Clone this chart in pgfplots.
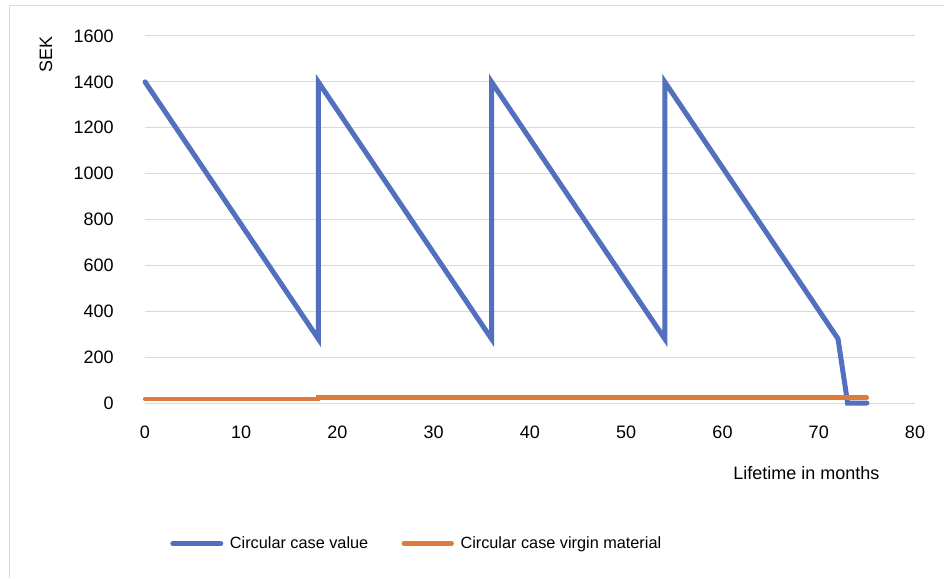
\documentclass[border=0pt]{standalone}
\usepackage{fontspec}
\setmainfont{Liberation Sans}
\usepackage{pgfplots}
\pgfplotsset{compat=1.18}
\definecolor{serblue}{HTML}{5270BD}
\definecolor{serorange}{HTML}{DC7C3A}
\definecolor{gridgray}{HTML}{D9D9D9}
\begin{document}
\begin{tikzpicture}[x=1pt,y=1pt]
% page 944x578 px at 0.75pt/px
\useasboundingbox (0,0) rectangle (708,433.5);
\fill[white] (0,0) rectangle (708,433.5);
\draw[gridgray, line width=0.75pt] (6.75,0) -- (6.75,429) -- (708,429);
\begin{axis}[
    at={(108.75pt,131.25pt)},
    anchor=south west,
    scale only axis,
    width=577.5pt,
    height=275.25pt,
    xmin=0, xmax=80,
    ymin=0, ymax=1600,
    xtick={0,10,...,80},
    ytick={0,200,...,1600},
    axis line style={draw=none},
    major tick length=0pt,
    ymajorgrids,
    grid style={gridgray, line width=0.75pt},
    /pgf/number format/assume math mode=true,
    /pgf/number format/1000 sep={},
    tick label style={font=\fontsize{13.5}{16}\selectfont, black},
    xticklabel style={yshift=-14pt},
    yticklabel style={xshift=-20pt},
    xlabel={Lifetime in months},
    ylabel={SEK},
    label style={font=\fontsize{13.5}{16}\selectfont},
    xlabel style={at={(axis description cs:0.859,0)}, anchor=center, yshift=-52.5pt},
    ylabel style={at={(axis description cs:-0.1286,0.95)}, anchor=center},
    legend style={at={(axis description cs:0.0325,-0.383)}, anchor=west,
        draw=none, fill=none, font=\fontsize{12.2}{14}\selectfont,
        legend columns=2, inner sep=0pt,
        /tikz/every odd column/.append style={column sep=3pt},
        /tikz/every even column/.append style={column sep=23pt}},
    legend image code/.code={\draw[#1, line cap=round] (0pt,0pt) -- (36pt,0pt);},
    clip=false,
]
\addplot[serblue, line width=3.75pt, line cap=round] coordinates {
    (0,1400) (18,280) (18,1400) (36,280) (36,1400) (54,280) (54,1400) (72,280) (73,0) (75,0)
};
\addlegendentry{Circular case value}
\addplot[serorange, line width=3.2pt, line cap=round] coordinates {
    (0,18) (18,18) (18,24) (75,24)
};
\addlegendentry{Circular case virgin material}
\end{axis}
\end{tikzpicture}
\end{document}
